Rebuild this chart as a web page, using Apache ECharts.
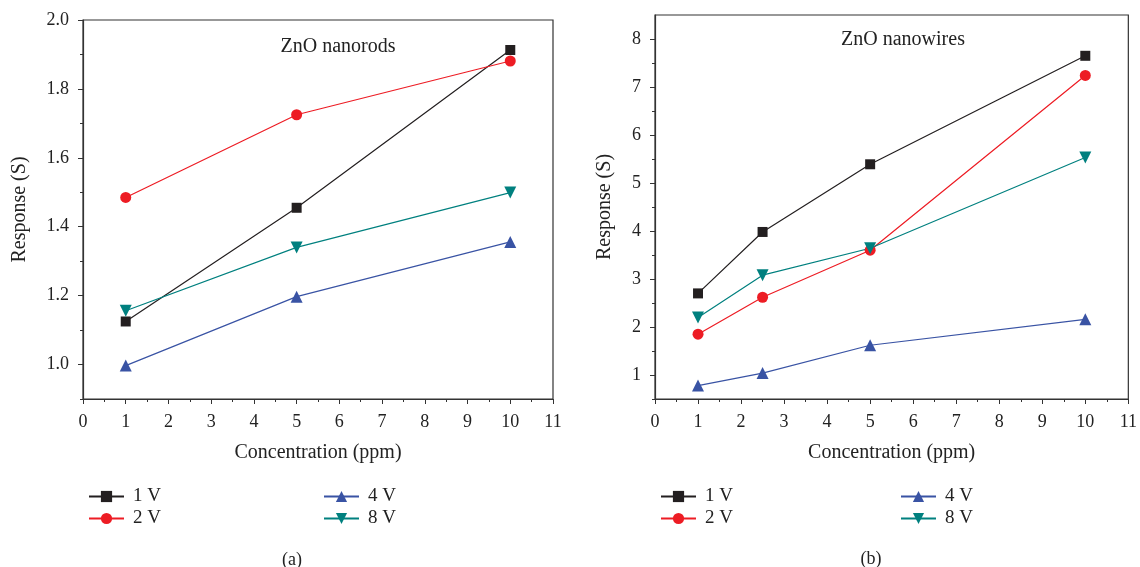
<!DOCTYPE html>
<html>
<head>
<meta charset="utf-8">
<script src="https://cdn.jsdelivr.net/npm/echarts@6/dist/echarts.min.js"></script>
<style>
  html, body { margin: 0; padding: 0; background: #fff; }
  #chart { width: 1140px; height: 567px; }
</style>
</head>
<body>
<div id="chart"></div>
<script>
  // panel (a) ZnO nanorods
  var rodsX = [1, 5, 10];
  var rods1V = [1.125, 1.455, 1.913];
  var rods2V = [1.485, 1.725, 1.881];
  var rods4V = [0.997, 1.197, 1.356];
  var rods8V = [1.156, 1.340, 1.499];
  var rodsYTicks = [1.0, 1.2, 1.4, 1.6, 1.8, 2.0];
  var rodsYMinor = [0.9, 1.1, 1.3, 1.5, 1.7, 1.9];

  // panel (b) ZnO nanowires
  var wiresX = [1, 2.5, 5, 10];
  var wires1V = [2.70, 3.98, 5.39, 7.65];
  var wires2V = [1.85, 2.62, 3.60, 7.24];
  var wires4V = [0.78, 1.04, 1.62, 2.16];
  var wires8V = [2.20, 3.08, 3.64, 5.53];
  var wiresYTicks = [1, 2, 3, 4, 5, 6, 7, 8];
  var wiresYMinor = [0.5, 1.5, 2.5, 3.5, 4.5, 5.5, 6.5, 7.5];

  var names = ['1 V', '2 V', '4 V', '8 V'];
  var colors = ['#231f20', '#ed1c24', '#3953a4', '#00807f'];
  var symbols = ['rect', 'circle', 'triangle', 'path://M0,0 L10,0 L5,9 Z'];
  var symbolSizes = [10, 11, 12, 12];

  var font = 'Liberation Serif';
  var txt = '#222';

  function pairs(xs, ys) {
    return xs.map(function (x, i) { return [x, ys[i]]; });
  }

  function xAxisFor(gridIndex) {
    return {
      type: 'value', gridIndex: gridIndex, min: 0, max: 11, interval: 1,
      name: 'Concentration (ppm)', nameLocation: 'middle', nameGap: 44,
      nameTextStyle: { fontFamily: font, fontSize: 20, color: txt },
      axisLine: { lineStyle: { color: '#333', width: 1.2 } },
      axisTick: { inside: false, length: 5, lineStyle: { color: '#333' } },
      minorTick: { show: true, splitNumber: 2, length: 3, lineStyle: { color: '#333' } },
      axisLabel: { fontFamily: font, fontSize: 18, color: txt, margin: 14 },
      splitLine: { show: false }
    };
  }

  function yAxisMain(gridIndex, min, max, ticks, dec, gap) {
    return {
      type: 'value', gridIndex: gridIndex, min: min, max: max, position: 'left',
      name: 'Response (S)', nameLocation: 'middle', nameGap: gap,
      nameTextStyle: { fontFamily: font, fontSize: 20, color: txt },
      axisLine: { show: true, lineStyle: { color: '#333', width: 1.2 } },
      axisTick: { show: true, length: 5, customValues: ticks, lineStyle: { color: '#333' } },
      axisLabel: {
        fontFamily: font, fontSize: 18, color: txt, margin: 14, customValues: ticks,
        formatter: function (v) { return v.toFixed(dec); }
      },
      splitLine: { show: false }
    };
  }

  function yAxisMinor(gridIndex, min, max, ticks) {
    return {
      type: 'value', gridIndex: gridIndex, min: min, max: max, position: 'left',
      axisLine: { show: false },
      axisTick: { show: true, length: 3, customValues: ticks, lineStyle: { color: '#333' } },
      axisLabel: { show: false },
      splitLine: { show: false }
    };
  }

  var rodsData = [rods1V, rods2V, rods4V, rods8V];
  var wiresData = [wires1V, wires2V, wires4V, wires8V];
  var series = [];
  names.forEach(function (n, i) {
    series.push({
      name: n, type: 'line', xAxisIndex: 0, yAxisIndex: 0,
      data: pairs(rodsX, rodsData[i]),
      symbol: symbols[i], symbolSize: symbolSizes[i], showSymbol: true,
      itemStyle: { color: colors[i] },
      lineStyle: { color: colors[i], width: 1.2 },
      z: 3
    });
    series.push({
      name: n, type: 'line', xAxisIndex: 1, yAxisIndex: 2,
      data: pairs(wiresX, wiresData[i]),
      symbol: symbols[i], symbolSize: symbolSizes[i], showSymbol: true,
      itemStyle: { color: colors[i] },
      lineStyle: { color: colors[i], width: 1.2 },
      z: 3
    });
  });

  function legendAt(left, data) {
    return {
      left: left, top: 482, orient: 'vertical', data: data,
      itemWidth: 35, itemHeight: 14, itemGap: 3, selectedMode: false,
      textStyle: { fontFamily: font, fontSize: 19, color: txt, padding: [0, 0, 0, 4] }
    };
  }

  var chart = echarts.init(document.getElementById('chart'));
  chart.setOption({
    backgroundColor: '#fff',
    animation: false,
    title: [
      { text: 'ZnO nanorods', left: 333, top: 32, textAlign: 'center',
        textStyle: { fontFamily: font, fontSize: 20, fontWeight: 'normal', color: txt } },
      { text: 'ZnO nanowires', left: 898, top: 25, textAlign: 'center',
        textStyle: { fontFamily: font, fontSize: 20, fontWeight: 'normal', color: txt } },
      { text: '(a)', left: 287, top: 546, textAlign: 'center',
        textStyle: { fontFamily: font, fontSize: 18, fontWeight: 'normal', color: txt } },
      { text: '(b)', left: 866, top: 545, textAlign: 'center',
        textStyle: { fontFamily: font, fontSize: 18, fontWeight: 'normal', color: txt } }
    ],
    legend: [
      legendAt(83, ['1 V', '2 V']),
      legendAt(318, ['4 V', '8 V']),
      legendAt(655, ['1 V', '2 V']),
      legendAt(895, ['4 V', '8 V'])
    ],
    grid: [
      { left: 83, top: 20, width: 470, height: 379, show: true, borderColor: '#333', borderWidth: 1.2, backgroundColor: 'transparent' },
      { left: 655, top: 15, width: 477, height: 384, show: true, borderColor: '#333', borderWidth: 1.2, backgroundColor: 'transparent' }
    ],
    xAxis: [xAxisFor(0), xAxisFor(1)],
    yAxis: [
      yAxisMain(0, 0.9, 2.0, rodsYTicks, 1, 53),
      yAxisMinor(0, 0.9, 2.0, rodsYMinor),
      yAxisMain(1, 0.5, 8.5, wiresYTicks, 0, 40),
      yAxisMinor(1, 0.5, 8.5, wiresYMinor)
    ],
    series: series
  });
</script>
</body>
</html>
